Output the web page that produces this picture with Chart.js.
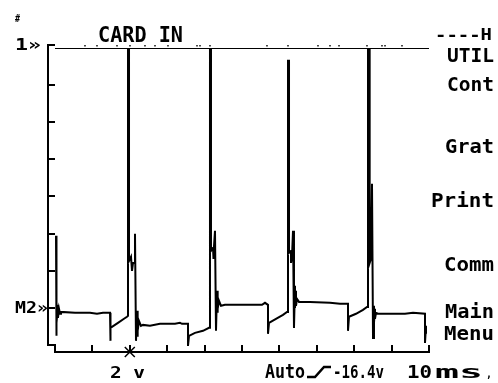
<!DOCTYPE html>
<html>
<head>
<meta charset="utf-8">
<script src="https://cdn.jsdelivr.net/npm/chart.js@4"></script>
<style>
html, body { margin: 0; padding: 0; background: #fff; }
#wrap { width: 498px; height: 383px; position: relative; }
</style>
</head>
<body>
<div id="wrap"><canvas id="scope"></canvas></div>
<script>
// Channel 2 trace (time in ms, volts)
const ch2TimeMs = [
    0.27, 0.27, 0.53, 0.27, 0.27, 0.53, 0.53, 0.80, 0.80, 1.07, 1.34, 1.60, 5.35, 9.36, 11.23, 12.83, 14.71, 14.71, 14.97, 16.84,
    18.45, 19.25, 19.52, 19.52, 19.79, 19.79, 20.32, 20.59, 20.86, 21.39, 21.39, 21.66, 21.93, 21.93, 22.19, 22.19, 22.46, 22.99, 23.53, 25.40,
    28.07, 32.09, 33.42, 33.96, 35.56, 35.56, 35.83, 37.43, 39.57, 41.18, 41.44, 41.44, 41.71, 41.71, 42.25, 42.25, 42.51, 42.78, 43.05, 43.32,
    43.32, 43.58, 43.58, 43.85, 44.39, 45.45, 50.80, 55.35, 56.15, 56.95, 56.95, 57.22, 59.09, 60.96, 62.03, 62.30, 62.30, 62.57, 62.57, 63.10,
    63.10, 63.37, 63.64, 63.90, 64.17, 64.17, 64.44, 64.44, 64.71, 65.24, 68.18, 73.53, 76.20, 78.34, 78.34, 78.61, 80.48, 82.35, 83.42, 83.69,
    83.69, 83.96, 83.96, 84.22, 84.22, 84.49, 84.76, 85.03, 85.29, 85.29, 85.56, 85.56, 85.83, 86.36, 89.57, 93.58, 95.72, 98.93, 98.93, 99.20,
    99.20
];
const ch2Volts = [
    3.88, 3.18, 3.39, 2.75, -1.51, 0.38, -0.81, 0.16, -0.54, -0.05, -0.32, -0.22, -0.27, -0.27, -0.32, -0.27, -0.27, -1.78, -1.08, -0.81,
    -0.59, -0.48, -0.43, 14.0, 14.0, 2.53, 2.75, 1.99, 2.42, 2.42, 3.99, -1.78, -0.16, -1.56, -0.48, -1.24, -0.70, -0.97, -0.92, -0.97,
    -0.86, -0.86, -0.81, -0.86, -0.86, -2.05, -1.51, -1.35, -1.24, -1.08, -1.08, 14.0, 14.0, 3.07, 3.23, 2.64, 2.91, 4.15, -1.24, 0.92,
    -0.27, 0.65, -0.05, 0.38, 0.11, 0.16, 0.16, 0.16, 0.27, 0.16, -1.40, -0.81, -0.59, -0.38, -0.22, -0.22, 13.31, 13.31, 2.96, 3.07,
    2.42, 2.75, 4.15, -1.08, 1.19, 0.00, 0.92, 0.11, 0.48, 0.32, 0.32, 0.27, 0.22, 0.22, -1.24, -0.48, -0.32, -0.11, 0.05, 0.05,
    14.0, 14.0, 3.07, 3.18, 2.42, 2.64, 6.68, -1.62, 0.11, -0.81, -0.05, -0.59, -0.27, -0.32, -0.32, -0.32, -0.27, -0.32, -1.89, -0.97,
    -1.40
];

// Channel 1 (CARD IN) sits flat at the top, with a few single-pixel glitches
const ch1TimeMs = [0, 100];
const ch1Volts = [14, 14];
const glitchTimeMs = [8.02, 11.23, 16.58, 20.05, 24.06, 26.74, 30.21, 37.97, 38.77, 41.44, 56.68, 62.30, 70.32, 73.53, 75.94, 83.42, 87.43, 88.24, 92.78];
const glitchVolts = [14.12, 14.12, 14.12, 14.12, 14.12, 14.12, 14.12, 14.12, 14.12, 14.12, 14.12, 14.12, 14.12, 14.12, 14.12, 14.12, 14.12, 14.12, 14.12];

// Graticule ticks
const voltTicks = [0, 2, 4, 6, 8, 10, 12];
const timeTicks = [10, 20, 30, 40, 50, 60, 70, 80, 90];
const triggerMs = 20;

const menuLabels = ['UTIL', 'Cont', 'Grat', 'Print', 'Comm', 'Main', 'Menu'];

function toPoints(xs, ys) {
    return xs.map((x, i) => ({ x: x, y: ys[i] }));
}

// draw text with a given cap height, stretched/squeezed to a given width
function label(ctx, text, x, y, capH, width, align) {
    const size = capH / 0.73;
    ctx.save();
    ctx.font = 'bold ' + size.toFixed(1) + 'px "DejaVu Sans Mono"';
    ctx.textAlign = 'left';
    ctx.textBaseline = 'alphabetic';
    const w = ctx.measureText(text).width;
    const sx = width / w;
    const left = align === 'right' ? x - width : x;
    ctx.translate(left, y);
    ctx.scale(sx, 1);
    ctx.fillText(text, 0, 0);
    ctx.restore();
}

const scopeFrame = {
    id: 'scopeFrame',
    afterDraw(chart) {
        const ctx = chart.ctx;
        const xs = chart.scales.x;
        const ys = chart.scales.y;
        const area = chart.chartArea;
        const x0 = Math.round(xs.getPixelForValue(0));
        const yLow = Math.round(ys.getPixelForValue(-2));

        ctx.save();
        ctx.strokeStyle = '#000';
        ctx.fillStyle = '#000';
        ctx.lineWidth = 2;

        // frame with stepped corner
        ctx.beginPath();
        ctx.moveTo(x0, area.top - 3);
        ctx.lineTo(area.left, area.top - 3);
        ctx.lineTo(area.left, yLow);
        ctx.lineTo(x0, yLow);
        ctx.lineTo(x0, area.bottom);
        ctx.lineTo(area.right, area.bottom);
        ctx.lineTo(area.right, area.bottom - 7);
        voltTicks.forEach(v => {
            const y = Math.round(ys.getPixelForValue(v));
            ctx.moveTo(area.left, y);
            ctx.lineTo(x0, y);
        });
        timeTicks.forEach(t => {
            const x = Math.round(xs.getPixelForValue(t));
            ctx.moveTo(x, area.bottom);
            ctx.lineTo(x, area.bottom - 7);
        });
        ctx.stroke();

        // trigger marker
        const tx = xs.getPixelForValue(triggerMs);
        const ty = area.bottom;
        ctx.lineWidth = 1.5;
        ctx.beginPath();
        ctx.moveTo(tx - 5, ty - 5); ctx.lineTo(tx + 5, ty + 5);
        ctx.moveTo(tx - 5, ty + 5); ctx.lineTo(tx + 5, ty - 5);
        ctx.moveTo(tx - 6, ty); ctx.lineTo(tx + 6, ty);
        ctx.stroke();

        // texts
        label(ctx, '#', 15, 22, 7, 5);
        label(ctx, '1»', 15, 50, 12, 26);
        label(ctx, 'M2»', 15, 313, 12, 33);
        label(ctx, 'CARD IN', 98, 42, 15, 85);
        label(ctx, '----H', 492, 40, 12, 57, 'right');
        const menuY = [62, 91, 153, 207, 271, 318, 340];
        const menuW = [47, 47, 49, 63, 50, 49, 50];
        menuLabels.forEach((m, i) => label(ctx, m, 494, menuY[i], 14, menuW[i], 'right'));

        label(ctx, '2 v', 110, 378, 12, 35);
        label(ctx, 'Auto', 265, 378, 14, 40);
        label(ctx, '-16.4v', 333, 378, 13, 51);
        label(ctx, '10', 407, 378, 13, 25);
        label(ctx, 'ms', 435, 378, 13, 48);
        label(ctx, ',', 486, 378, 8, 6);

        // rising-edge trigger slope symbol
        ctx.lineWidth = 2.5;
        ctx.beginPath();
        ctx.moveTo(307, 377);
        ctx.lineTo(315, 377);
        ctx.lineTo(324, 367);
        ctx.lineTo(331, 367);
        ctx.stroke();

        ctx.restore();
    }
};

new Chart(document.getElementById('scope').getContext('2d'), {
    type: 'line',
    data: {
        datasets: [
            {
                label: 'CH2',
                data: toPoints(ch2TimeMs, ch2Volts),
                borderColor: '#000',
                borderWidth: 2,
                pointRadius: 0,
                tension: 0,
                fill: false
            },
            {
                label: 'CH1 CARD IN',
                data: toPoints(ch1TimeMs, ch1Volts),
                borderColor: '#000',
                borderWidth: 2,
                pointRadius: 0,
                tension: 0,
                fill: false
            },
            {
                label: 'CH1 glitches',
                data: toPoints(glitchTimeMs, glitchVolts),
                showLine: false,
                pointStyle: 'rect',
                pointRadius: 1,
                backgroundColor: '#000',
                borderColor: '#000',
                borderWidth: 0,
                clip: false
            }
        ]
    },
    options: {
        responsive: true,
        maintainAspectRatio: false,
        animation: false,
        layout: {
            padding: { left: 48, right: 69, top: 48, bottom: 31 }
        },
        plugins: {
            legend: { display: false },
            tooltip: { enabled: false }
        },
        scales: {
            x: { type: 'linear', min: -1.87, max: 100, display: false },
            y: { type: 'linear', min: -2.38, max: 14, display: false }
        }
    },
    plugins: [scopeFrame]
});
</script>
</body>
</html>
